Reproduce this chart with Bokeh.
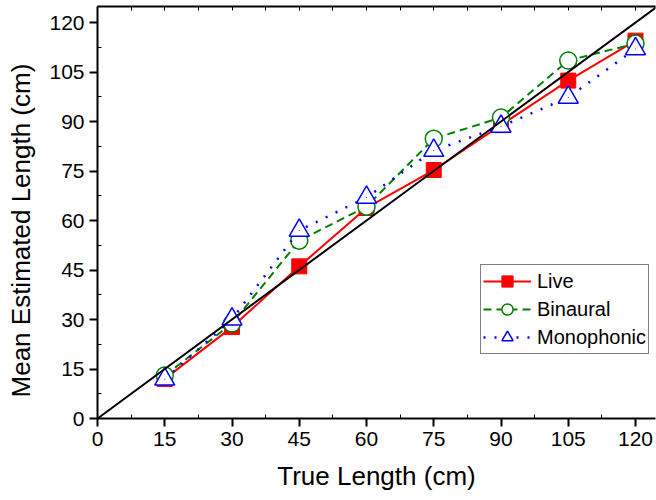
from bokeh.plotting import figure
from bokeh.models import Range1d, LinearAxis, FixedTicker, Legend, LegendItem
from bokeh.embed import file_html
from bokeh.resources import INLINE

true_len = [15, 30, 45, 60, 75, 90, 105, 120]
live = [12.0, 27.7, 46.1, 63.8, 75.3, 88.9, 102.4, 114.5]
binaural = [13.0, 28.8, 53.9, 64.2, 84.8, 91.2, 108.5, 113.6]
mono = [11.9, 30.1, 57.0, 67.0, 81.2, 88.5, 97.3, 112.0]
ticks = [0, 15, 30, 45, 60, 75, 90, 105, 120]
minor = [7.5 + 15 * i for i in range(9)]
all_ticks = [7.5 * i for i in range(17)]
diag = [0, 130]

FONT = "Liberation Sans"

p = figure(width=656, height=500, output_backend="svg", toolbar_location=None,
           x_range=Range1d(0, 124.46), y_range=Range1d(0, 124.85),
           min_border_left=97, min_border_right=1, min_border_top=6, min_border_bottom=82,
           x_axis_label="True Length (cm)",
           y_axis_label="Mean Estimated Length (cm)\u00a0\u00a0\u00a0\u00a0\u00a0")
p.outline_line_color = None
p.xgrid.visible = False
p.ygrid.visible = False
p.background_fill_color = "white"
p.border_fill_color = "white"

for ax in (p.xaxis[0], p.yaxis[0]):
    ax.ticker = FixedTicker(ticks=ticks, minor_ticks=minor)
    ax.major_tick_out = 8
    ax.major_tick_in = 0
    ax.minor_tick_out = 0
    ax.minor_tick_in = 4
    ax.axis_line_width = 2
    ax.major_tick_line_width = 2
    ax.minor_tick_line_width = 1
    ax.axis_line_color = "black"
    ax.major_label_text_font = FONT
    ax.major_label_text_font_size = "21px"
    ax.major_label_text_color = "black"
    ax.axis_label_text_font = FONT
    ax.axis_label_text_font_size = "26px"
    ax.axis_label_text_font_style = "normal"
    ax.axis_label_text_color = "black"
    ax.major_label_standoff = 5

p.xaxis[0].axis_label_standoff = 12
p.yaxis[0].axis_label_standoff = 10

# top frame edge with inward ticks only (no labels)
top = LinearAxis(ticker=FixedTicker(ticks=[], minor_ticks=all_ticks),
                 minor_tick_in=4, minor_tick_out=0, minor_tick_line_width=1,
                 major_tick_in=0, major_tick_out=0, axis_line_width=2,
                 major_label_standoff=0)
p.add_layout(top, "above")

# Live
l_line = p.line(true_len, live, line_color="#FF0000", line_width=2)
l_mark = p.scatter(true_len, live, marker="square", size=15, fill_color="#FF0000",
                   line_color="#FF0000")
# Binaural
b_line = p.line(true_len, binaural, line_color="#008000", line_width=2, line_dash="8 5")
b_mark = p.scatter(true_len, binaural, marker="circle", size=17, fill_color="white",
                   line_color="#008000", line_width=1.5)
# Monophonic
m_line = p.line(true_len, mono, line_color="#0000FF", line_width=2.5, line_dash="2 9")
m_mark = p.scatter(true_len, mono, marker="triangle", size=20, fill_color="white",
                   line_color="#0000FF", line_width=1.5)
m_dot = p.scatter(true_len, mono, marker="dot", size=4, line_color="#0000FF",
                  fill_color="#0000FF")

# identity line
p.line(diag, diag, line_color="black", line_width=2)

legend = Legend(items=[
    LegendItem(label="Live", renderers=[l_line, l_mark]),
    LegendItem(label="Binaural", renderers=[b_line, b_mark]),
    LegendItem(label="Monophonic", renderers=[m_line, m_mark]),
], location=(383, 64))
legend.label_text_font = FONT
legend.label_text_font_size = "20px"
legend.label_text_color = "black"
legend.border_line_color = "black"
legend.border_line_width = 1
legend.background_fill_color = "white"
legend.background_fill_alpha = 1
legend.padding = 2
legend.spacing = -4
legend.glyph_height = 28
legend.label_height = 28
legend.glyph_width = 48
legend.label_standoff = 6
legend.margin = 0
p.add_layout(legend, "center")

open("out.html", "w").write(file_html(p, INLINE))
